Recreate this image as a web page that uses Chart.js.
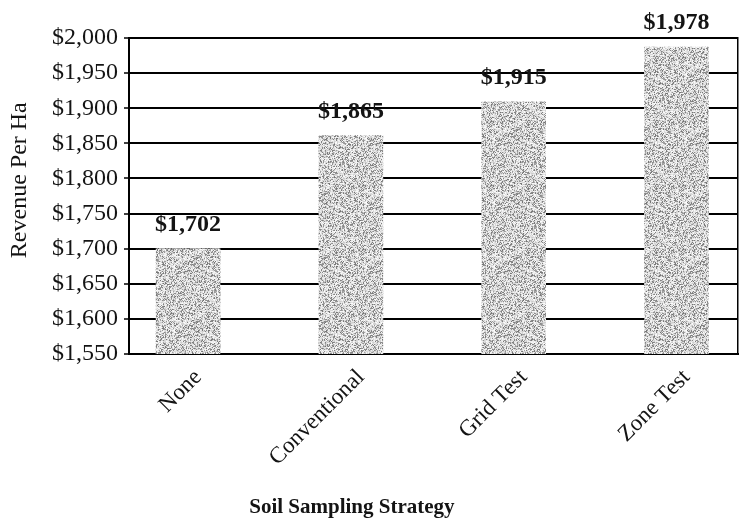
<!DOCTYPE html>
<html>
<head>
<meta charset="utf-8">
<script src="https://cdn.jsdelivr.net/npm/chart.js@4/dist/chart.umd.min.js"></script>
<style>
    html, body { margin: 0; padding: 0; background: #fff; overflow: hidden; }
</style>
</head>
<body>
<canvas id="revenue-chart" width="739" height="519"></canvas>
<script>
// data
const categories = ['None', 'Conventional', 'Grid Test', 'Zone Test'];
const barValues = [1700, 1861, 1909, 1987];          // bar tops as drawn
const valueLabels = ['$1,702', '$1,865', '$1,915', '$1,978'];
const yMin = 1550;
const yMax = 2000;
const yStep = 50;

const serif = "'Liberation Serif', 'Times New Roman', serif";
const ink = '#141414';

const canvas = document.getElementById('revenue-chart');
const ctx = canvas.getContext('2d');

// light grey stipple fill like the scanned bars
function stipple() {
    const c = document.createElement('canvas');
    c.width = 64;
    c.height = 64;
    const g = c.getContext('2d');
    const img = g.createImageData(64, 64);
    for (let y = 0; y < 64; y++) {
        for (let x = 0; x < 64; x++) {
            let h = Math.imul((x * 73856093) ^ (y * 19349663), 2654435761) >>> 0;
            h = Math.imul(h ^ (h >>> 13), 1274126177) >>> 0;
            h = ((h ^ (h >>> 16)) >>> 0) % 1000 / 1000;
            const v = h < 0.3 ? 115 + h * 180 : 200 + (h - 0.3) * 75;
            const i = (y * 64 + x) * 4;
            img.data[i] = img.data[i + 1] = img.data[i + 2] = v;
            img.data[i + 3] = 255;
        }
    }
    g.putImageData(img, 0, 0);
    return ctx.createPattern(c, 'repeat');
}

// labels above bars + axis titles
const textPlugin = {
    id: 'textPlugin',
    afterDatasetsDraw(chart) {
        const c = chart.ctx;
        const area = chart.chartArea;
        c.save();
        c.fillStyle = ink;
        c.textAlign = 'center';
        c.font = 'bold 24px ' + serif;
        c.textBaseline = 'bottom';
        chart.getDatasetMeta(0).data.forEach((bar, i) => {
            c.fillText(valueLabels[i], bar.x, bar.y - 12);
        });

        c.textBaseline = 'middle';
        c.font = 'bold 21px ' + serif;
        c.fillText('Soil Sampling Strategy', area.left + area.width * 0.366, chart.height - 11);

        c.font = '24px ' + serif;
        c.translate(20, area.top + area.height * 0.45);
        c.rotate(-Math.PI / 2);
        c.fillText('Revenue Per Ha', 0, 0);
        c.restore();
    }
};

const revenueChart = new Chart(ctx, {
    type: 'bar',
    data: {
        datasets: [{
            label: 'Revenue Per Ha',
            data: barValues.map((v, i) => ({ x: i, y: v })),
            backgroundColor: stipple(),
            borderWidth: 0,
            barThickness: 64
        }]
    },
    options: {
        responsive: false,
        animation: false,
        devicePixelRatio: 1,
        layout: { padding: { left: 0, top: 38, right: 0, bottom: 0 } },
        plugins: {
            legend: { display: false },
            tooltip: { enabled: false }
        },
        scales: {
            x: {
                type: 'linear',
                offset: false,
                min: -0.363,
                max: 3.378,
                afterBuildTicks: (scale) => {
                    scale.ticks = categories.map((c, i) => ({ value: i }));
                },
                afterFit: (scale) => { scale.height = 165; },
                ticks: {
                    autoSkip: false,
                    minRotation: 45,
                    maxRotation: 45,
                    padding: 2,
                    labelOffset: 10,
                    color: ink,
                    font: { family: serif, size: 23 },
                    callback: (v) => categories[v] ?? ''
                },
                grid: { display: false, offset: false },
                border: { display: true, color: '#000', width: 2 }
            },
            y: {
                min: yMin,
                max: yMax,
                afterFit: (scale) => { scale.width = 129; },
                ticks: {
                    stepSize: yStep,
                    padding: 6,
                    color: ink,
                    font: { family: serif, size: 24 },
                    callback: (v) => '$' + v.toLocaleString('en-US')
                },
                grid: {
                    color: '#000',
                    lineWidth: 2,
                    tickLength: 5,
                    tickWidth: 1.5,
                    tickColor: '#000'
                },
                border: { color: '#000', width: 2 }
            },
            yRight: {
                position: 'right',
                min: yMin,
                max: yMax,
                afterFit: (scale) => { scale.width = 1; },
                ticks: { display: false },
                grid: { display: false, drawTicks: false },
                border: { color: '#000', width: 1.5 }
            }
        }
    },
    plugins: [textPlugin]
});
</script>
</body>
</html>
